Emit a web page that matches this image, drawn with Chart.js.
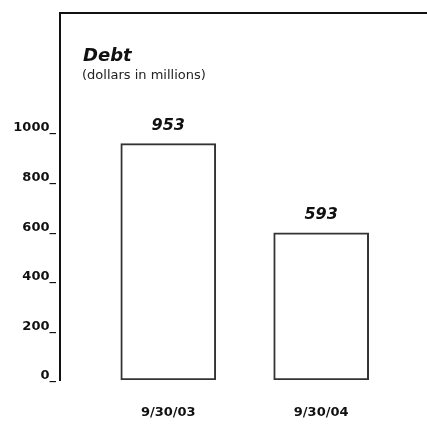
<!DOCTYPE html>
<html>
<head>
<meta charset="utf-8">
<script src="https://cdn.jsdelivr.net/npm/chart.js@4"></script>
<style>
  html, body { margin: 0; padding: 0; background: #fff; }
  #wrap { width: 427px; height: 424px; position: relative; }
</style>
</head>
<body>
<div id="wrap"><canvas id="debt-canvas"></canvas></div>
<script>
const categories = ["9/30/03", "9/30/04"]
const debtValues = [953, 593]
const yTicks = [0, 200, 400, 600, 800, 1000]
const titleText = "Debt"
const subtitleText = "(dollars in millions)"

// frame line along the top, title and the value labels above bars
const decorations = {
  id: "decorations",
  afterDraw(chart) {
    const { ctx, chartArea } = chart
    ctx.save()
    ctx.strokeStyle = "#111"
    ctx.lineWidth = 2
    ctx.beginPath()
    ctx.moveTo(chartArea.left - 1, chartArea.top)
    ctx.lineTo(chart.width, chartArea.top)
    ctx.stroke()

    ctx.fillStyle = "#111"
    ctx.textBaseline = "middle"
    ctx.textAlign = "left"
    ctx.font = "italic bold 18px 'DejaVu Sans'"
    ctx.fillText(titleText, 83, 56)
    ctx.fillStyle = "#222"
    ctx.font = "13px 'DejaVu Sans'"
    ctx.fillText(subtitleText, 82, 76)

    ctx.fillStyle = "#111"
    ctx.textAlign = "center"
    ctx.font = "italic bold 16px 'DejaVu Sans'"
    chart.getDatasetMeta(0).data.forEach((bar, i) => {
      ctx.fillText(String(debtValues[i]), bar.x, bar.y - 18)
    })
    ctx.restore()
  },
}

const canvas = document.getElementById("debt-canvas")
new Chart(canvas, {
  type: "bar",
  data: {
    datasets: [
      {
        label: "Debt",
        data: debtValues.map((v, i) => ({ x: i, y: v })),
        backgroundColor: "#fff",
        borderColor: "#333",
        borderWidth: 2,
        borderSkipped: false,
        barThickness: 95,
      },
    ],
  },
  options: {
    responsive: true,
    maintainAspectRatio: false,
    animation: false,
    layout: { padding: { top: 13, right: 0, left: 0, bottom: 0 } },
    plugins: {
      legend: { display: false },
      tooltip: { enabled: false },
    },
    scales: {
      x: {
        type: "linear",
        offset: false,
        min: -0.708,
        max: 1.692,
        grid: { display: false, drawTicks: false, offset: false },
        border: { display: false },
        afterBuildTicks: (s) => { s.ticks = categories.map((c, i) => ({ value: i })) },
        afterFit: (s) => { s.height = 44 },
        ticks: {
          padding: 25,
          color: "#111",
          font: { family: "DejaVu Sans", size: 13, weight: "bold" },
          callback: (v) => categories[v],
        },
      },
      y: {
        min: 0,
        max: 1480,
        grid: { display: false, drawTicks: false },
        border: { display: true, color: "#111", width: 2 },
        afterBuildTicks: (s) => { s.ticks = yTicks.map((v) => ({ value: v })) },
        afterFit: (s) => { s.width = 60 },
        ticks: {
          padding: 4,
          labelOffset: -4,
          color: "#111",
          font: { family: "DejaVu Sans", size: 13, weight: "bold" },
          callback: (v) => v + "_",
        },
      },
    },
  },
  plugins: [decorations],
})
</script>
</body>
</html>
